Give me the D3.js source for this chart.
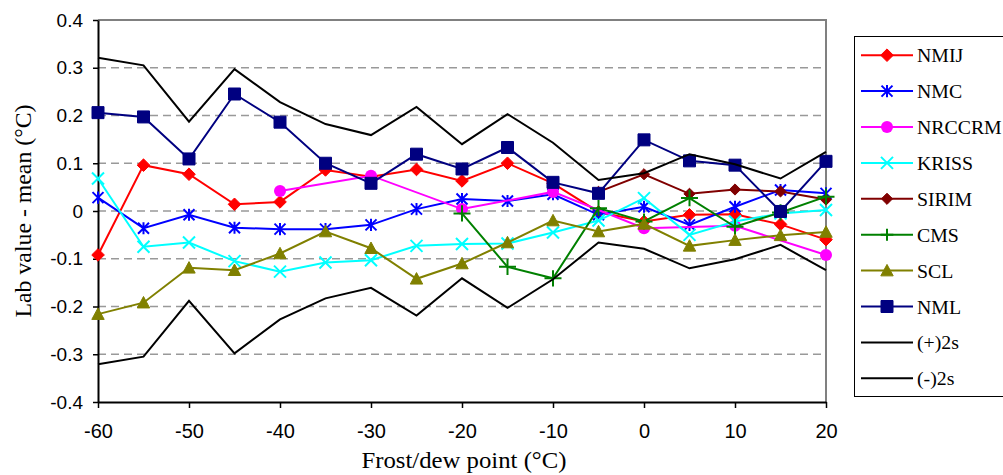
<!DOCTYPE html>
<html>
<head>
<meta charset="utf-8">
<script src="https://cdn.jsdelivr.net/npm/d3@7"></script>
<style>
body { margin: 0; background: #fff; }
svg { display: block; }
</style>
</head>
<body>
<svg></svg>
<script>
// Define variables
const width = 1003
const height = 475
const plotLeft = 98, plotRight = 826, plotTop = 20, plotBottom = 402

// data
const dewPoints = [-60, -55, -50, -45, -40, -35, -30, -25, -20, -15, -10, -5, 0, 5, 10, 15, 20]
const nmij   = [-0.092, 0.096, 0.077, 0.014, 0.019, 0.086, 0.072, 0.087, 0.063, 0.100, 0.058, -0.002, -0.022, -0.008, -0.007, -0.028, -0.060]
const nmc    = [0.028, -0.036, -0.008, -0.035, -0.038, -0.038, -0.029, 0.004, 0.025, 0.021, 0.035, -0.008, 0.009, -0.029, 0.009, 0.044, 0.037]
const nrccrm = [null, null, null, null, 0.042, null, 0.074, null, 0.004, null, 0.040, null, -0.036, null, -0.031, null, -0.092]
const kriss  = [0.068, -0.075, -0.066, -0.105, -0.127, -0.108, -0.103, -0.073, -0.069, -0.068, -0.045, -0.020, 0.027, -0.050, -0.022, -0.005, 0.002]
const sirim  = [null, null, null, null, null, null, null, null, null, null, null, 0.040, 0.077, 0.036, 0.045, 0.041, 0.024]
const cms    = [null, null, null, null, null, null, null, null, -0.005, -0.117, -0.141, 0.006, -0.022, 0.027, -0.033, -0.003, 0.030]
const scl    = [-0.216, -0.192, -0.119, -0.124, -0.089, -0.043, -0.078, -0.142, -0.110, -0.066, -0.020, -0.043, -0.027, -0.073, -0.061, -0.051, -0.044]
const nml    = [0.206, 0.197, 0.109, 0.245, 0.186, 0.100, 0.058, 0.119, 0.088, 0.133, 0.060, 0.037, 0.149, 0.105, 0.096, -0.001, 0.104]
const plus2s = [0.321, 0.305, 0.187, 0.297, 0.228, 0.182, 0.159, 0.218, 0.140, 0.203, 0.143, 0.065, 0.079, 0.119, 0.098, 0.068, 0.124]
const minus2s = [-0.321, -0.305, -0.188, -0.298, -0.227, -0.183, -0.161, -0.219, -0.141, -0.203, -0.143, -0.066, -0.079, -0.120, -0.101, -0.071, -0.124]

const seriesNames = ['NMIJ', 'NMC', 'NRCCRM', 'KRISS', 'SIRIM', 'CMS', 'SCL', 'NML', '(+)2s', '(-)2s']
const seriesValues = [nmij, nmc, nrccrm, kriss, sirim, cms, scl, nml, plus2s, minus2s]
const xTicks = [-60, -50, -40, -30, -20, -10, 0, 10, 20]
const yTicks = [-0.4, -0.3, -0.2, -0.1, 0, 0.1, 0.2, 0.3, 0.4]

// look of each series
const looks = [
    {color: '#ff0000', marker: 'diamond', r: 6.3},
    {color: '#0000ff', marker: 'asterisk', r: 5.5},
    {color: '#ff00ff', marker: 'circle', r: 6},
    {color: '#00ffff', marker: 'cross', r: 6},
    {color: '#800000', marker: 'diamond', r: 5.6},
    {color: '#008000', marker: 'plus', r: 8.5},
    {color: '#808000', marker: 'triangle', r: 6.2},
    {color: '#000080', marker: 'square', r: 6},
    {color: '#000000', marker: null},
    {color: '#000000', marker: null}
]

const svg = d3.select('svg')
                .attr('width', width)
                .attr('height', height)

const serif = '"Liberation Serif", "Times New Roman", serif'
const sans = '"Liberation Sans", Arial, sans-serif'

let xScale = d3.scaleLinear()
                .domain([-60, 20])
                .range([plotLeft, plotRight])
let yScale = d3.scaleLinear()
                .domain([-0.4, 0.4])
                .range([plotBottom, plotTop])

let markerPath = (type, s) => {
    if (type == 'diamond') return `M0,${-s}L${s},0L0,${s}L${-s},0Z`
    if (type == 'square') return `M${-s},${-s}H${s}V${s}H${-s}Z`
    if (type == 'triangle') return `M0,${-s}L${s},${s * 0.85}L${-s},${s * 0.85}Z`
    if (type == 'cross') return `M${-s},${-s}L${s},${s}M${-s},${s}L${s},${-s}`
    if (type == 'asterisk') return `M${-s},${-s}L${s},${s}M${-s},${s}L${s},${-s}M0,${-s * 1.1}L0,${s * 1.1}`
    if (type == 'plus') return `M${-s},0L${s},0M0,${-s * 0.95}L0,${s * 0.95}`
    return ''
}

let drawMarker = (g, look, scale) => {
    let s = look.r * (scale || 1)
    if (look.marker == 'circle') {
        g.append('circle').attr('r', s).attr('fill', look.color)
    } else if (look.marker == 'cross' || look.marker == 'asterisk' || look.marker == 'plus') {
        g.append('path').attr('d', markerPath(look.marker, s))
            .attr('fill', 'none').attr('stroke', look.color).attr('stroke-width', 2)
    } else {
        g.append('path').attr('d', markerPath(look.marker, s))
            .attr('fill', look.color).attr('stroke', look.color).attr('stroke-width', 1)
    }
}

// gridlines
svg.append('g')
    .selectAll('line')
    .data(yTicks.filter(d => Math.abs(d) < 0.35))
    .enter()
    .append('line')
    .attr('x1', plotLeft).attr('x2', plotRight)
    .attr('y1', d => yScale(d)).attr('y2', d => yScale(d))
    .attr('stroke', '#999')
    .attr('stroke-width', 1.3)
    .attr('stroke-dasharray', '8,5')

// top and right border
svg.append('path')
    .attr('d', `M${plotLeft},${plotTop}H${plotRight}V${plotBottom}`)
    .attr('fill', 'none')
    .attr('stroke', '#808080')
    .attr('stroke-width', 2)

// Build Axes
let xAxis = d3.axisBottom(xScale)
                .tickValues(xTicks)
                .tickSize(6)
                .tickSizeOuter(0)
                .tickFormat(d => String(d))
let gx = svg.append('g')
    .attr('transform', 'translate(0,' + plotBottom + ')')
    .call(xAxis)
gx.selectAll('text')
    .attr('y', 36).attr('dy', null)
    .style('font-family', sans).style('font-size', '20px').attr('fill', '#000')

let yAxis = d3.axisLeft(yScale)
                .tickValues(yTicks)
                .tickSize(5)
                .tickPadding(10)
                .tickSizeOuter(0)
                .tickFormat(d => d == 0 ? '0' : d.toFixed(1))
let gy = svg.append('g')
    .attr('transform', 'translate(' + plotLeft + ',0)')
    .call(yAxis)
gy.selectAll('text')
    .style('font-family', sans).style('font-size', '19px').attr('fill', '#000')

svg.selectAll('.domain').attr('stroke', '#000').attr('stroke-width', 2)
svg.selectAll('.tick line').attr('stroke', '#000').attr('stroke-width', 1.5)

// Draw series
let line = d3.line()
                .x(d => xScale(d.x))
                .y(d => yScale(d.y))

seriesValues.forEach((vals, i) => {
    let look = looks[i]
    let pts = dewPoints.map((x, j) => ({x: x, y: vals[j]})).filter(d => d.y != null)
    let g = svg.append('g')
    g.append('path')
        .attr('d', line(pts))
        .attr('fill', 'none')
        .attr('stroke', look.color)
        .attr('stroke-width', 2)
    if (look.marker) {
        pts.forEach(d => {
            let m = g.append('g').attr('transform', `translate(${xScale(d.x)},${yScale(d.y)})`)
            drawMarker(m, look)
        })
    }
})

// axis titles
svg.append('text')
    .attr('x', 464).attr('y', 468)
    .attr('text-anchor', 'middle')
    .attr('textLength', 205)
    .attr('lengthAdjust', 'spacingAndGlyphs')
    .style('font-family', serif).style('font-size', '24px')
    .text('Frost/dew point (°C)')

svg.append('text')
    .attr('transform', 'translate(31,211) rotate(-90)')
    .attr('text-anchor', 'middle')
    .attr('textLength', 213)
    .attr('lengthAdjust', 'spacingAndGlyphs')
    .style('font-family', serif).style('font-size', '24px')
    .text('Lab value - mean (°C)')

// legend
let legend = svg.append('g')
legend.append('rect')
    .attr('x', 854.5).attr('y', 36.5)
    .attr('width', 170).attr('height', 360)
    .attr('fill', '#fff')
    .attr('stroke', '#000')
    .attr('stroke-width', 1)

seriesNames.forEach((name, i) => {
    let look = looks[i]
    let ly = 55.2 + i * 35.9
    legend.append('line')
        .attr('x1', 861).attr('x2', 913)
        .attr('y1', ly).attr('y2', ly)
        .attr('stroke', look.color)
        .attr('stroke-width', 2)
    if (look.marker) {
        let m = legend.append('g').attr('transform', `translate(887,${ly})`)
        drawMarker(m, look, look.marker == 'plus' ? 0.75 : 1)
    }
    legend.append('text')
        .attr('transform', `translate(917,${ly + 7}) scale(1.1,1)`)
        .style('font-family', serif).style('font-size', '18px')
        .text(name)
})
</script>
</body>
</html>
